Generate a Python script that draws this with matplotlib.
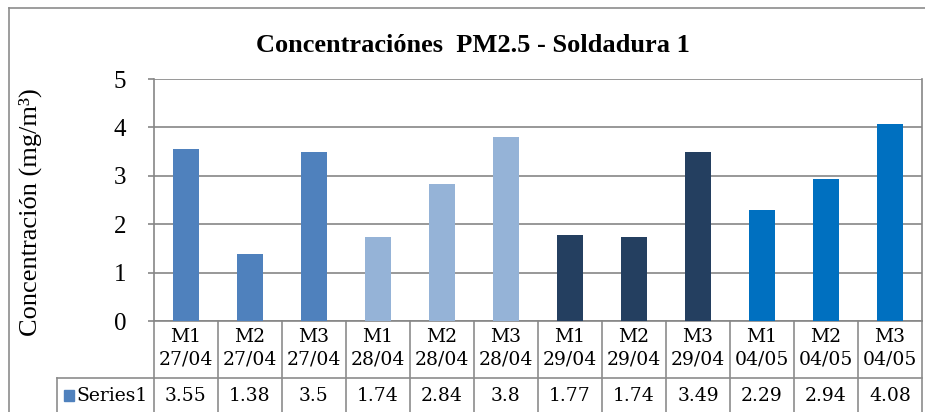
import matplotlib
matplotlib.use("Agg")
import matplotlib.pyplot as plt
from matplotlib.lines import Line2D
from matplotlib.patches import Rectangle

# data
muestras = ["M1", "M2", "M3", "M1", "M2", "M3", "M1", "M2", "M3", "M1", "M2", "M3"]
fechas = ["27/04", "27/04", "27/04", "28/04", "28/04", "28/04",
          "29/04", "29/04", "29/04", "04/05", "04/05", "04/05"]
valores = [3.55, 1.38, 3.5, 1.74, 2.84, 3.8, 1.77, 1.74, 3.49, 2.29, 2.94, 4.08]
etiquetas = ["3.55", "1.38", "3.5", "1.74", "2.84", "3.8", "1.77", "1.74", "3.49", "2.29", "2.94", "4.08"]
colores = ["#4F81BD"] * 3 + ["#95B3D7"] * 3 + ["#243F60"] * 3 + ["#0070C0"] * 3

W, H = 925, 412
fig = plt.figure(figsize=(W / 100, H / 100), dpi=100)

# plot area in pixels
x0, x1, ytop, ybot = 154, 922, 79, 321
ax = fig.add_axes([x0 / W, 1 - ybot / H, (x1 - x0) / W, (ybot - ytop) / H])

x = list(range(len(valores)))
ax.bar(x, valores, width=0.41, color=colores, zorder=3)
ax.set_xlim(-0.5, len(valores) - 0.5)
ax.set_ylim(0, 5)
ax.set_yticks(range(6))
ax.set_xticks([])
ax.yaxis.grid(True, color="#868686", lw=1.2, zorder=0)
ax.tick_params(axis="y", length=4, width=1.2, color="#868686", pad=16,
               labelsize=18, labelfontfamily="Liberation Serif")
for s in ax.spines.values():
    s.set_color("#868686")
    s.set_linewidth(1.2)
ax.spines["top"].set_visible(False)

ax.set_ylabel("Concentración (mg/m³)", family="Liberation Serif", fontsize=19)
ax.yaxis.set_label_coords((42 - x0) / (x1 - x0), 0.45)

# data table below the plot
gris = "#8C8C8C"
ah = ybot - ytop
def ay(py):
    return -(py - ybot) / ah

tr = ax.get_xaxis_transform()
row1 = ay(378)
row2 = ay(420)
for i in range(len(valores) + 1):
    ax.add_line(Line2D([i - 0.5, i - 0.5], [0, row2], transform=tr, color=gris, lw=1.2, clip_on=False))
ax.add_line(Line2D([-0.5, len(valores) - 0.5], [row1, row1], transform=tr, color=gris, lw=1.2, clip_on=False))
for i in range(len(valores)):
    ax.text(i, ay(337), muestras[i], transform=tr, ha="center", va="center",
            family="DejaVu Serif", fontsize=13.5, clip_on=False)
    ax.text(i, ay(359), fechas[i], transform=tr, ha="center", va="center",
            family="DejaVu Serif", fontsize=13.5, clip_on=False)
    ax.text(i, ay(396), etiquetas[i], transform=tr, ha="center", va="center",
            family="DejaVu Serif", fontsize=13.5, clip_on=False)

# Series1 label cell
fig.add_artist(Line2D([57 / W, x0 / W], [1 - 378 / H, 1 - 378 / H], color=gris, lw=1.2))
fig.add_artist(Line2D([57 / W, 57 / W], [1 - 378 / H, 0], color=gris, lw=1.2))
fig.add_artist(Rectangle((64 / W, 1 - 401 / H), 10 / W, 11 / H, color="#4F81BD"))
fig.text(76 / W, 1 - 396 / H, "Series1", family="DejaVu Serif", fontsize=13.5, va="center")

# chart border
fig.add_artist(Line2D([9 / W, 9 / W], [1 - 8 / H, 0], color=gris, lw=1.2))
fig.add_artist(Line2D([9 / W, 1], [1 - 8 / H, 1 - 8 / H], color=gris, lw=1.2))

fig.text(473 / W, 1 - 45 / H, "Concentraciónes  PM2.5 - Soldadura 1", ha="center", va="center",
         family="Liberation Serif", fontweight="bold", fontsize=19)

fig.savefig("out.png", dpi=100)
